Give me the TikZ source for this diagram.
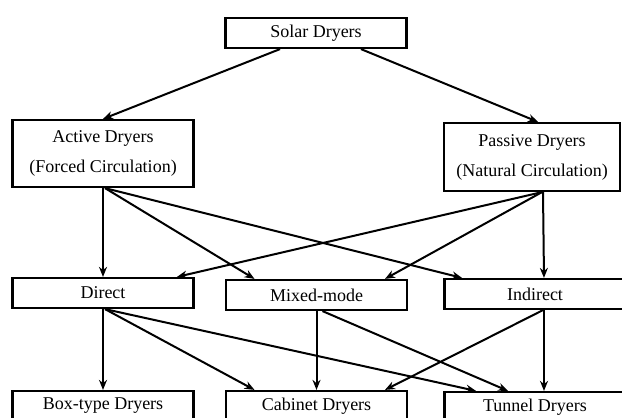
\documentclass[tikz,border=0pt]{standalone}
\usepackage{fontspec}
\setmainfont{Liberation Serif}
\usetikzlibrary{arrows.meta}

\tikzset{
  box/.style={draw, line width=2.2pt, minimum width=181pt, minimum height=30pt, inner sep=0pt, align=center, font=\fontsize{18}{30}\selectfont},
  arr/.style={-{Stealth[length=10pt,width=8pt]}, line width=2pt}
}

\begin{document}
\begin{tikzpicture}[x=1pt, y=-1pt]
    \useasboundingbox (0, 0) rectangle (622, 418);

    \node[box] at (316, 33)  (solar)    {Solar Dryers};

    \node[box, minimum height=67pt] at (103, 153.5)  (active)    {Active Dryers\\(Forced Circulation)};
    \node[box, minimum width=176pt, minimum height=68pt] at (532, 157)  (passive)    {Passive Dryers\\(Natural Circulation)};

    \node[box] at (103, 293)  (direct)    {Direct};
    \node[box] at (316.5, 295)  (mixed)    {Mixed-mode};
    \node[box] at (535, 294)  (indirect)    {Indirect};

    \node[box] at (103, 406)  (boxtype)    {Box-type Dryers};
    \node[box] at (316.5, 406)  (cabinet)    {Cabinet Dryers};
    \node[box] at (535, 407)  (tunnel)    {Tunnel Dryers};

    \draw[arr]  ([xshift=-36pt]solar.south) -- (active.north);
    \draw[arr]  ([xshift=45pt]solar.south) -- ([xshift=6pt]passive.north);

    \draw[arr]  (active.south) -- (direct.north);
    \draw[arr]  ([xshift=2pt]active.south) -- ([xshift=-62pt]mixed.north);
    \draw[arr]  ([xshift=2pt]active.south) -- ([xshift=-73pt]indirect.north);

    \draw[arr]  ([xshift=11pt]passive.south) -- ([xshift=9pt]indirect.north);
    \draw[arr]  ([xshift=10pt]passive.south) -- ([xshift=68.5pt]mixed.north);
    \draw[arr]  ([xshift=10pt]passive.south) -- ([xshift=74pt]direct.north);

    \draw[arr]  (direct.south) -- (boxtype.north);
    \draw[arr]  ([xshift=2pt]direct.south) -- ([xshift=-62pt]cabinet.north);
    \draw[arr]  ([xshift=2pt]direct.south) -- ([xshift=-59pt]tunnel.north);

    \draw[arr]  (mixed.south) -- (cabinet.north);
    \draw[arr]  ([xshift=6pt]mixed.south) -- ([xshift=-27pt]tunnel.north);

    \draw[arr]  ([xshift=9pt]indirect.south) -- ([xshift=9pt]tunnel.north);
    \draw[arr]  ([xshift=8pt]indirect.south) -- ([xshift=68.5pt]cabinet.north);
  \end{tikzpicture}
\end{document}
